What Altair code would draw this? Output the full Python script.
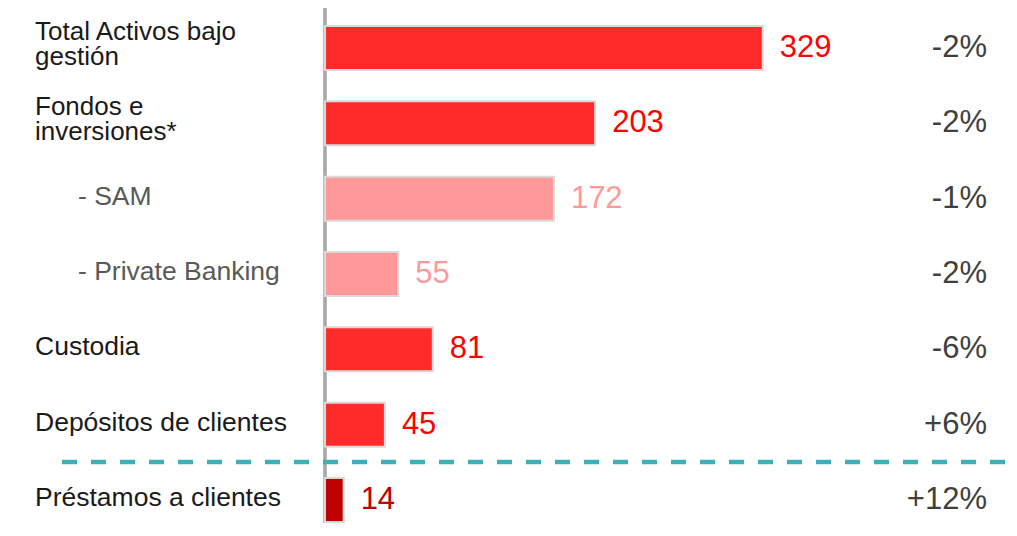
import altair as alt
import pandas as pd

categories = ["Total Activos bajo\ngestión", "Fondos e\ninversiones*", "- SAM", "- Private Banking",
              "Custodia", "Depósitos de clientes", "Préstamos a clientes"]
values = [329, 203, 172, 55, 81, 45, 14]
changes = ["-2%", "-2%", "-1%", "-2%", "-6%", "+6%", "+12%"]
groups = ["main", "main", "sub", "sub", "main", "main", "loan"]

df = pd.DataFrame({"category": categories, "value": values, "change": changes, "group": groups})

FONT = "Liberation Sans"
yscale = alt.Scale(paddingInner=0.416, paddingOuter=0.126, align=0.947)
Y = alt.Y("category:N", sort=categories, scale=yscale, axis=None)
xscale = alt.Scale(domain=[0, 514], nice=False, zero=True)
X = alt.X("value:Q", scale=xscale, axis=None)

base = alt.Chart(df)

axis_line = alt.Chart(pd.DataFrame({"v": [0]})).mark_rule(color="#A6A6A6", strokeWidth=3.5).encode(
    x=alt.X("v:Q", scale=xscale, axis=None), y=alt.value(0), y2=alt.value(530),
)

bars = base.mark_bar(stroke="#D9D9D9", strokeWidth=2).encode(
    y=Y, x=X,
    fill=alt.Fill("group:N", scale=alt.Scale(domain=["main", "sub", "loan"],
                                             range=["#FF2B2B", "#FF9999", "#C00000"]), legend=None),
)

value_text = base.mark_text(align="left", baseline="middle", dx=17, fontSize=31, font=FONT).encode(
    y=Y, x=X, text="value:Q",
    color=alt.Color("group:N", scale=alt.Scale(domain=["main", "sub", "loan"],
                                               range=["#FF0000", "#FF9999", "#C00000"]), legend=None),
)

change_text = base.mark_text(align="right", baseline="middle", fontSize=31, font=FONT,
                             color="#404040").encode(
    y=Y, x=alt.value(662), text="change:N",
)

two_line = base.transform_filter("indexof(datum.category, '\\n') >= 0").mark_text(
    align="left", baseline="middle", fontSize=26, font=FONT, color="#1A1A1A",
    lineBreak="\n", lineHeight=25, dy=-16).encode(
    y=Y, x=alt.value(-290), text="category:N",
)

one_line = base.transform_filter(
    "indexof(datum.category, '\\n') < 0 && datum.group != 'sub'").mark_text(
    align="left", baseline="middle", fontSize=26.5, font=FONT, color="#1A1A1A", dy=-2).encode(
    y=Y, x=alt.value(-290), text="category:N",
)

sub_labels = base.transform_filter(alt.datum.group == "sub").mark_text(
    align="left", baseline="middle", fontSize=26.5, font=FONT, color="#595959", dy=-2).encode(
    y=Y, x=alt.value(-247), text="category:N",
)

divider = alt.Chart(pd.DataFrame({"v": [0]})).mark_rule(
    color="#3DB1B9", strokeWidth=4.5, strokeDash=[15, 14]).encode(
    x=alt.value(-263), x2=alt.value(684), y=alt.value(454),
)

chart = alt.layer(axis_line, bars, divider, value_text, change_text, two_line, one_line,
                  sub_labels).properties(
    width=684, height=515,
    autosize=alt.AutoSizeParams(type="none"),
    padding={"left": 317, "top": 0, "right": 0, "bottom": 0},
).configure_view(stroke=None)

chart.save("out.html", embed_options={"renderer": "svg", "actions": False})
